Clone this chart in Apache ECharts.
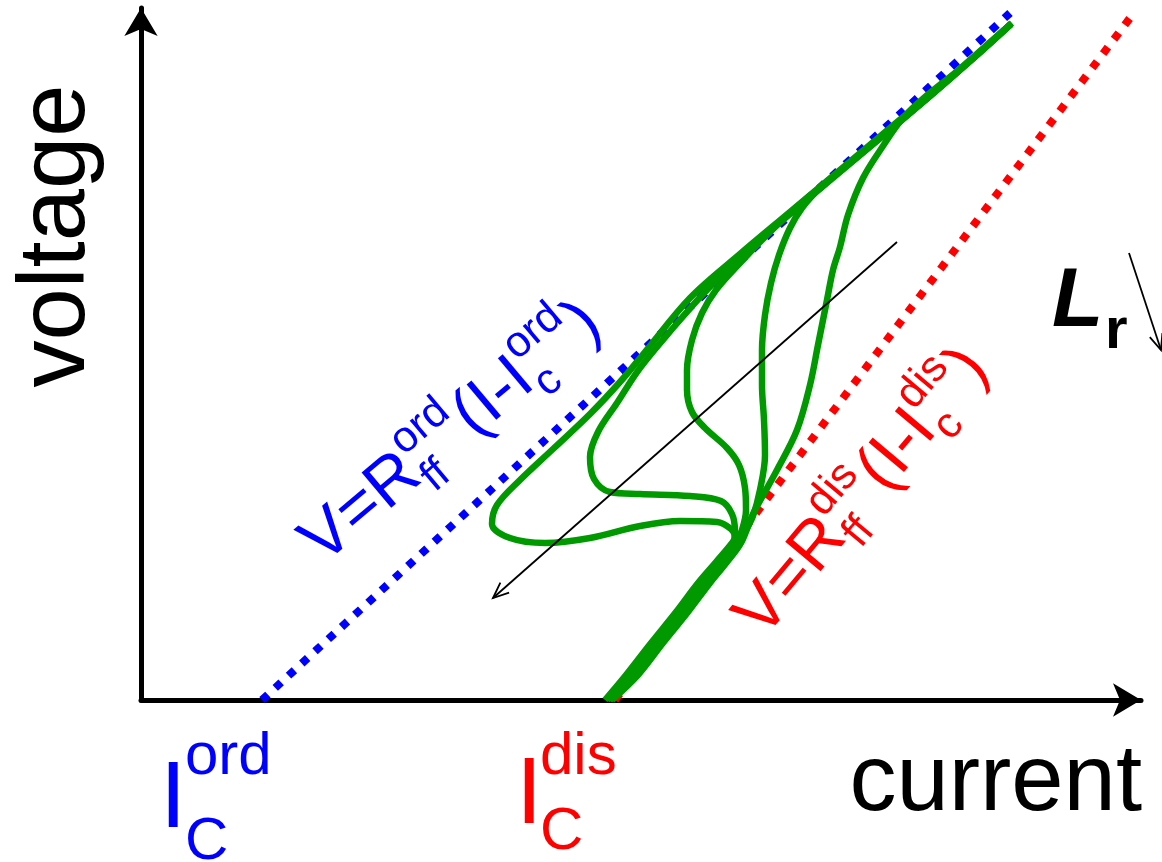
<!DOCTYPE html>
<html><head><meta charset="utf-8">
<script src="https://cdn.jsdelivr.net/npm/echarts@6.0.0/dist/echarts.min.js"></script>
<style>html,body{margin:0;padding:0;background:#fff;overflow:hidden}#chart{width:1162px;height:862px}</style>
</head><body><div id="chart"></div>
<script>
// ---- data (arbitrary units) ----
const currentRange = [0, 10];
const voltageRange = [0, 6.92];
// flux-flow asymptotes V = R_ff (I - I_c)
const ordFluxFlow = [[1.21, 0], [8.69, 6.87]];
const disFluxFlow = [[4.74, 0], [9.89, 6.82]];
// V(I) curves
const curve1 = [[4.64,0],[4.85,0.25],[5.10,0.57],[5.35,0.88],[5.57,1.17],[5.75,1.38],[5.91,1.57],[5.94,1.63],[5.90,1.71],[5.76,1.78],[5.39,1.79],[4.99,1.74],[4.49,1.62],[4.04,1.57],[3.69,1.62],[3.51,1.76],[3.56,1.95],[3.79,2.20],[4.12,2.51],[4.49,2.86],[4.79,3.18],[5.04,3.48],[5.49,4.02],[5.99,4.46],[6.49,4.88],[6.99,5.30],[7.49,5.72],[7.89,6.05],[8.29,6.40],[8.71,6.77]];
const curve2 = [[4.66,0],[4.88,0.25],[5.13,0.57],[5.38,0.88],[5.60,1.17],[5.77,1.38],[5.92,1.57],[5.94,1.68],[5.91,1.86],[5.80,1.99],[5.49,2.04],[4.99,2.06],[4.69,2.08],[4.53,2.21],[4.49,2.43],[4.57,2.68],[4.76,2.97],[4.99,3.32],[5.32,3.72],[5.64,4.08],[5.99,4.43],[6.49,4.86],[6.99,5.28],[7.49,5.70],[7.89,6.04],[8.29,6.39],[8.70,6.76]];
const curve3 = [[4.68,0],[4.91,0.25],[5.16,0.57],[5.41,0.88],[5.63,1.17],[5.80,1.38],[5.95,1.57],[6.01,1.70],[6.05,1.90],[6.04,2.12],[5.98,2.35],[5.86,2.52],[5.64,2.72],[5.51,2.88],[5.46,3.10],[5.46,3.30],[5.51,3.60],[5.61,3.87],[5.75,4.10],[5.99,4.37],[6.24,4.63],[6.49,4.87],[6.99,5.29],[7.49,5.71],[7.89,6.04],[8.29,6.39],[8.70,6.76]];
const curve4 = [[4.69,0],[4.94,0.25],[5.19,0.57],[5.44,0.88],[5.66,1.17],[5.83,1.38],[5.97,1.57],[6.04,1.68],[6.12,1.84],[6.19,2.10],[6.24,2.45],[6.23,2.80],[6.21,3.15],[6.21,3.50],[6.24,3.85],[6.30,4.17],[6.38,4.45],[6.49,4.72],[6.61,4.92],[6.79,5.12],[6.99,5.29],[7.49,5.70],[7.89,6.04],[8.29,6.39],[8.70,6.76]];
const curve5 = [[4.71,0],[4.97,0.25],[5.22,0.57],[5.47,0.88],[5.69,1.17],[5.86,1.38],[6.00,1.57],[6.12,1.86],[6.36,2.30],[6.56,2.70],[6.69,3.15],[6.77,3.55],[6.86,4.00],[6.92,4.30],[6.99,4.53],[7.07,4.85],[7.22,5.22],[7.42,5.54],[7.62,5.82],[7.84,6.03],[8.29,6.39],[8.70,6.76]];
// guide arrows: [x_from, y_from, x_to, y_to]
const guideArrows = [[7.56, 4.58, 3.52, 1.02], [9.88, 4.47, 10.20, 3.50]];
const axisNames = ['current', 'voltage'];

// ---- styling ----
const FONT = '"Liberation Sans", Arial, Helvetica, sans-serif';
const BLUE = '#0000ff', RED = '#ff0000', GREEN = '#009900';
const MID = 0.35; // canvas 'middle' line above baseline, in em

const mctx = document.createElement('canvas').getContext('2d');
function tw(t, size, pre) { mctx.font = (pre || '') + ' ' + size + 'px ' + FONT; return mctx.measureText(t).width; }
function txt(t, x, baseY, size, color, extra) {
  extra = extra || {};
  return { type: 'text', x: x, y: baseY - MID * size, style: {
    text: t, font: (extra.pre || '') + ' ' + size + 'px ' + FONT, fill: color,
    align: extra.align || 'left', verticalAlign: 'middle', textAlign: extra.align || 'left', textVerticalAlign: 'middle'
  } };
}
function formula(tokens, F, color, ox, oy, deg) {
  const f = 0.65 * F; let x = 0; const kids = [];
  tokens.forEach(function (tok) {
    if (tok.length === 1) { kids.push(txt(tok[0], x, 0, F, color)); x += tw(tok[0], F); }
    else {
      kids.push(txt(tok[0], x, 0.22 * F, f, color));
      kids.push(txt(tok[1], x, -0.5 * F, f, color));
      x += Math.max(tw(tok[0], f), tw(tok[1], f)) + 0.04 * F;
    }
  });
  return { type: 'group', x: ox, y: oy, rotation: deg * Math.PI / 180, children: kids, z: 100 };
}

const chart = echarts.init(document.getElementById('chart'), null, { renderer: 'canvas' });

function lineSeries(data, color, width, dash, z) {
  return { type: 'line', data: data, showSymbol: false, symbol: 'none', clip: false, smooth: dash ? false : 0.35,
    lineStyle: { color: color, width: width, type: dash || 'solid', cap: 'butt', join: 'round' }, z: z, silent: true, animation: false };
}

const option = {
  animation: false,
  backgroundColor: '#fff',
  grid: { left: 141, top: 8, width: 1000, height: 692, containLabel: false },
  xAxis: { type: 'value', min: currentRange[0], max: currentRange[1],
    axisLine: { show: true, onZero: true, symbol: ['none', 'arrow'], symbolSize: [25, 28], lineStyle: { color: '#000', width: 5 } },
    axisTick: { show: false }, axisLabel: { show: false }, splitLine: { show: false } },
  yAxis: { type: 'value', min: voltageRange[0], max: voltageRange[1],
    axisLine: { show: true, onZero: true, symbol: ['none', 'arrow'], symbolSize: [25, 28], lineStyle: { color: '#000', width: 5 } },
    axisTick: { show: false }, axisLabel: { show: false }, splitLine: { show: false } },
  series: [
    lineSeries(ordFluxFlow, BLUE, 8, [8, 10], 2),
    lineSeries(disFluxFlow, RED, 8, [8, 10], 2),
    lineSeries(curve1, GREEN, 6.5, null, 3),
    lineSeries(curve2, GREEN, 6.5, null, 3),
    lineSeries(curve3, GREEN, 6.5, null, 3),
    lineSeries(curve4, GREEN, 6.5, null, 3),
    lineSeries(curve5, GREEN, 6.5, null, 3),
    { type: 'custom', data: guideArrows, clip: false, silent: true, z: 4,
      encode: { x: [0, 2], y: [1, 3] },
      renderItem: function (params, api) {
        const p1 = api.coord([api.value(0), api.value(1)]);
        const p2 = api.coord([api.value(2), api.value(3)]);
        const ang = Math.atan2(p2[1] - p1[1], p2[0] - p1[0]);
        const L = 17, a = 0.4;
        const h1 = [p2[0] - L * Math.cos(ang - a), p2[1] - L * Math.sin(ang - a)];
        const h2 = [p2[0] - L * Math.cos(ang + a), p2[1] - L * Math.sin(ang + a)];
        return { type: 'group', children: [
          { type: 'line', shape: { x1: p1[0], y1: p1[1], x2: p2[0], y2: p2[1] }, style: { stroke: '#000', lineWidth: 1.8 } },
          { type: 'polyline', shape: { points: [h1, p2, h2] }, style: { stroke: '#000', lineWidth: 1.8, fill: null } }
        ] };
      } }
  ]
};
chart.setOption(option);

const graphics = [
  // axis names
  { type: 'group', x: 91, y: 236, rotation: Math.PI / 2, children: [txt(axisNames[1], 0, 0, 94, '#000', { align: 'center' })] },
  txt(axisNames[0], 1142, 817, 94, '#000', { align: 'right' }),
  // critical currents
  txt('I', 160, 834, 95, BLUE), txt('ord', 185, 778, 60, BLUE), txt('C', 185, 863, 60, BLUE),
  txt('I', 516, 830, 95, RED), txt('dis', 540, 778, 60, RED), txt('C', 540, 853, 60, RED),
  // L_r
  txt('L', 1052, 332, 84, '#000', { pre: 'italic bold' }), txt('r', 1105, 352, 58, '#000', { pre: 'bold' }),
  // flux-flow formulas
  formula([['V=R'], ['ff', 'ord'], ['(I-I'], ['c', 'ord'], [')']], 67, BLUE, 326, 569, 40),
  formula([['V=R'], ['ff', 'dis'], ['(I-I'], ['c', 'dis'], [')']], 67, RED, 767, 643, 50)
];
chart.setOption({ graphic: { elements: graphics } });
</script>
</body></html>
